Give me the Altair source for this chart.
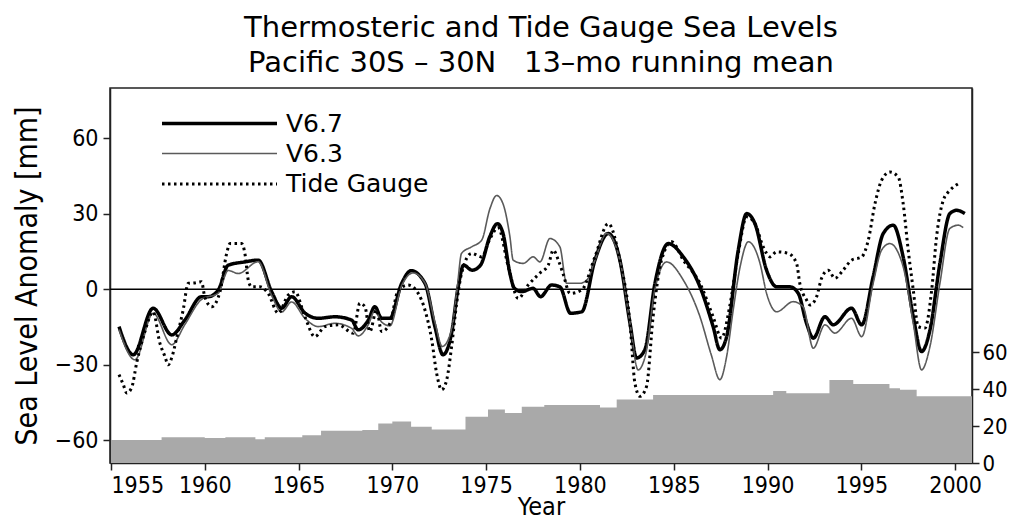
import altair as alt
import pandas as pd

# ---------------- data ----------------
series_order = ["V6.7", "V6.3", "Tide Gauge"]

v67_year = [1955.43, 1956.19, 1957.25, 1958.24, 1958.94, 1959.83, 1960.19, 1960.72, 1961.25, 1962.14,
            1962.85, 1963.57, 1964.1, 1964.63, 1965.34, 1966.05, 1966.94, 1967.83, 1968.18, 1968.72,
            1969.07, 1969.43, 1969.87, 1970.5, 1971.0, 1971.74, 1972.27, 1972.7, 1973.16, 1973.51,
            1973.8, 1974.25, 1974.7, 1975.2, 1975.6, 1975.9, 1976.27, 1976.5, 1976.9, 1977.5,
            1977.9, 1978.49, 1978.93, 1979.5, 1980.1, 1980.8, 1981.51, 1982.13, 1982.67, 1983.02,
            1983.46, 1984.0, 1984.71, 1985.51, 1986.4, 1987.1, 1987.46, 1987.82, 1988.44, 1988.89,
            1989.33, 1989.95, 1990.49, 1991.19, 1991.64, 1992.08, 1992.44, 1993.06, 1993.5, 1994.48,
            1995.02, 1995.63, 1996.17, 1996.7, 1997.23, 1997.77, 1998.21, 1998.66, 1999.19, 1999.72,
            2000.08, 2000.52]
v67_mm = [-14.8, -26.0, -7.5, -18.1, -12.2, -2.9, -2.9, -0.3, 9.6, 10.9,
          11.6, -1.0, -7.5, -2.9, -9.4, -11.5, -10.9, -12.2, -16.1, -12.2,
          -6.9, -11.5, -11.5, 2.4, 7.4, 2.4, -14.8, -26.0, -17.3, 1.0,
          9.6, 7.6, 9.6, 21.0, 26.1, 22.2, 6.3, 0.5, -0.9, 0.4,
          -2.9, 1.7, 1.0, -9.5, -8.9, 11.6, 22.2, 11.6, -13.5, -27.3,
          -24.0, 2.4, 18.2, 12.9, 1.0, -14.8, -24.0, -18.8, 15.6, 30.1,
          26.1, 7.6, 1.0, 1.0, -1.6, -13.5, -19.4, -10.9, -14.1, -7.5,
          -14.1, 5.0, 22.2, 25.5, 12.9, -10.9, -24.7, -16.1, 10.3, 30.1,
          31.4, 30.1]

v63_year = [1955.43, 1956.28, 1957.25, 1958.24, 1958.94, 1959.83, 1960.72, 1961.25, 1961.79, 1962.85,
            1963.57, 1964.1, 1964.63, 1965.34, 1966.05, 1966.94, 1967.83, 1968.18, 1968.72, 1969.07,
            1969.43, 1969.87, 1970.5, 1971.11, 1971.74, 1972.27, 1972.66, 1973.16, 1973.45, 1973.69,
            1974.23, 1974.76, 1975.2, 1975.56, 1975.9, 1976.27, 1976.44, 1976.98, 1977.51, 1977.87,
            1978.4, 1978.93, 1979.29, 1980.0, 1980.4, 1980.8, 1981.42, 1982.13, 1982.67, 1983.1,
            1983.5, 1984.0, 1984.62, 1985.51, 1986.4, 1987.0, 1987.46, 1987.82, 1988.17, 1988.54,
            1988.98, 1989.6, 1989.95, 1990.49, 1991.37, 1991.9, 1992.44, 1993.06, 1993.59, 1994.48,
            1995.02, 1995.63, 1996.08, 1996.52, 1997.23, 1997.77, 1998.21, 1998.66, 1999.19, 1999.72,
            2000.17, 2000.43]
v63_mm = [-16.0, -28.0, -9.5, -22.0, -14.0, -4.0, -1.5, 7.5, 6.3, 11.0,
          -2.5, -9.0, -5.0, -11.5, -14.8, -13.5, -15.5, -18.5, -14.0, -8.5,
          -13.0, -14.5, 1.5, 6.5, 2.5, -13.0, -22.7, -16.0, 0.0, 14.3,
          16.9, 19.5, 32.0, 37.3, 34.0, 20.8, 11.6, 10.3, 12.9, 10.9,
          20.2, 16.9, 2.4, 2.4, 4.0, 11.6, 22.2, 11.6, -13.5, -32.0,
          -26.0, 0.0, 10.9, 3.7, -10.9, -26.0, -35.9, -26.7, -8.2, 9.0,
          18.9, 10.3, -1.6, -8.9, -4.9, -7.0, -23.4, -14.1, -17.4, -11.5,
          -18.8, 2.4, 15.6, 18.2, 9.0, -13.5, -32.0, -22.7, 2.4, 24.2,
          25.5, 24.5]

tg_year = [1955.43, 1955.66, 1955.84, 1956.1, 1956.37, 1956.8, 1957.25, 1957.61, 1957.88, 1958.05,
           1958.25, 1958.5, 1958.85, 1959.12, 1959.4, 1959.83, 1960.0, 1960.37, 1960.81, 1961.17,
           1961.35, 1961.97, 1962.14, 1962.32, 1962.5, 1962.94, 1963.38, 1963.92, 1964.45, 1964.81,
           1965.34, 1965.87, 1966.41, 1967.12, 1967.92, 1968.27, 1968.54, 1968.8, 1969.16, 1969.43,
           1969.87, 1970.32, 1970.85, 1971.38, 1971.74, 1972.1, 1972.36, 1972.63, 1972.9, 1973.16,
           1973.43, 1973.69, 1974.23, 1974.76, 1975.2, 1975.64, 1976.18, 1976.71, 1977.24, 1977.87,
           1978.31, 1978.58, 1978.85, 1979.11, 1979.47, 1980.09, 1980.8, 1981.51, 1982.13, 1982.67,
           1982.93, 1983.2, 1983.55, 1983.9, 1984.35, 1984.89, 1985.51, 1986.4, 1987.1, 1987.55,
           1987.98, 1988.44, 1988.89, 1989.33, 1989.77, 1990.13, 1990.49, 1991.1, 1991.55, 1991.72,
           1992.08, 1992.26, 1992.62, 1992.88, 1993.24, 1993.59, 1994.03, 1994.48, 1995.02, 1995.37,
           1995.73, 1996.08, 1996.52, 1996.97, 1997.23, 1997.5, 1997.77, 1998.03, 1998.39, 1998.75,
           1999.01, 1999.37, 1999.72, 2000.17]
tg_mm = [-33.9, -37.9, -41.2, -39.2, -29.3, -17.0, -9.0, -21.4, -26.7, -30.0,
         -27.0, -19.4, -8.2, 2.4, 2.5, 3.0, -2.9, -6.9, -1.0, 14.3,
         18.2, 18.2, 14.3, 3.7, 1.0, 1.0, -1.6, -9.5, -2.3, -1.0,
         -10.9, -18.8, -14.8, -14.1, -17.4, -5.5, -6.9, -16.8, -8.2, -16.8,
         -13.5, -0.3, 1.7, -1.6, -8.2, -20.1, -33.3, -39.9, -35.9, -22.7,
         -5.5, 6.3, 14.3, 12.9, 20.0, 24.5, 9.0, -3.6, 1.7, 6.5,
         9.6, 15.6, 11.6, 6.0, -1.6, -0.3, 12.9, 26.1, 11.6, -13.5,
         -37.2, -42.5, -38.6, -10.9, 11.6, 18.9, 11.6, 2.4, -10.9, -19.4,
         -6.9, 14.3, 28.8, 26.1, 16.9, 12.9, 14.9, 14.3, 10.3, 2.4,
         -4.2, -6.2, -2.9, 4.4, 7.6, 4.4, 7.6, 11.6, 12.9, 19.5,
         34.1, 43.3, 46.6, 44.6, 34.1, 15.6, -0.3, -14.8, -15.4, -0.3,
         20.8, 35.4, 39.3, 42.0]

# number of tide gauges (right axis), step changes
count_year = [1955.0, 1957.7, 1960.0, 1961.1, 1962.7, 1963.2, 1965.2, 1966.2, 1968.4, 1969.25,
              1970.0, 1971.0, 1972.1, 1973.9, 1975.1, 1976.0, 1976.9, 1978.1, 1981.07, 1981.96,
              1983.9, 1990.3, 1991.0, 1993.3, 1994.57, 1996.5, 1997.06, 1997.95, 2000.9]
count_val = [12.4, 13.9, 13.5, 13.9, 12.8, 13.9, 15.0, 17.5, 17.8, 21.4,
             22.5, 19.6, 18.2, 25.0, 29.0, 27.0, 30.5, 31.4, 30.0, 34.4,
             36.8, 39.0, 37.7, 44.9, 42.7, 40.5, 39.6, 36.2, 36.2]

x_ticks = [1955, 1960, 1965, 1970, 1975, 1980, 1985, 1990, 1995, 2000]
left_ticks = [-60, -30, 0, 30, 60]
right_ticks = [0, 20, 40, 60]

# ---------------- tables ----------------
rows = []
for name, ys, vs in [("V6.7", v67_year, v67_mm), ("V6.3", v63_year, v63_mm), ("Tide Gauge", tg_year, tg_mm)]:
    for y, v in zip(ys, vs):
        rows.append({"year": y, "mm": v, "series": name})
lines_df = pd.DataFrame(rows)
count_df = pd.DataFrame({"year": count_year, "n": count_val})
zero_df = pd.DataFrame({"z": [0]})

FONT = "DejaVu Sans Condensed, DejaVu Sans"

x_scale = alt.Scale(domain=[1954.95, 2000.9], nice=False, zero=False)
y_scale = alt.Scale(domain=[-69, 80], nice=False, zero=False)

x_axis = alt.Axis(values=x_ticks, format="d", title="Year", labelPadding=4, titlePadding=-3,
                  titleFontSize=25)
left_axis = alt.Axis(orient="left", values=left_ticks, title="Sea Level Anomaly [mm]",
                     labelPadding=5, titlePadding=12, titleFontSize=30)

area = alt.Chart(count_df).mark_area(interpolate="step-after", color="#a9a9a9").encode(
    x=alt.X("year:Q", scale=x_scale, axis=x_axis),
    y=alt.Y("n:Q", scale=alt.Scale(domain=[0, 203], nice=False),
            axis=alt.Axis(orient="right", values=right_ticks, title=None, labelPadding=3,
                          labelFontSize=22)),
)

zero = alt.Chart(zero_df).mark_rule(color="black", strokeWidth=1.5).encode(
    y=alt.Y("z:Q", scale=y_scale, axis=left_axis),
)

lines = alt.Chart(lines_df).mark_line(interpolate="monotone").encode(
    x=alt.X("year:Q", scale=x_scale, axis=x_axis),
    y=alt.Y("mm:Q", scale=y_scale, axis=left_axis),
    color=alt.Color("series:N",
                    scale=alt.Scale(domain=series_order, range=["#000000", "#5a5a5a", "#000000"]),
                    legend=alt.Legend(title=None, orient="none", legendX=50, legendY=22,
                                      symbolType="M-1,0H9", symbolSize=529,
                                      labelFont="DejaVu Sans", labelFontSize=25, labelColor="black",
                                      labelOffset=99, rowPadding=4)),
    strokeWidth=alt.StrokeWidth("series:N",
                                scale=alt.Scale(type="ordinal", domain=series_order,
                                                range=[3.5, 1.6, 3.0])),
    strokeDash=alt.StrokeDash("series:N",
                              scale=alt.Scale(domain=series_order,
                                              range=[[1, 0], [1, 0], [2.5, 3.5]])),
)

chart = alt.layer(area, alt.layer(zero, lines)).resolve_scale(y="independent").properties(
    width=862,
    height=375,
    title=alt.Title(["Thermosteric and Tide Gauge Sea Levels",
                     "Pacific 30S \u2013 30N\u00a0\u00a0 13\u2013mo running mean"],
                    font="DejaVu Sans", fontSize=29, fontWeight="normal", color="black",
                    lineHeight=35, offset=10, anchor="middle"),
    autosize=alt.AutoSizeParams(type="none"),
    padding={"left": 102, "top": 80, "right": 37, "bottom": 57},
).configure_view(
    stroke="#222222", strokeWidth=1.5
).configure_axis(
    labelFont=FONT, labelFontSize=23, labelColor="black",
    titleFont=FONT, titleColor="black", titleFontWeight="normal",
    domainColor="#222222", domainWidth=1.5, tickColor="#222222", tickWidth=1.5, tickSize=7,
    grid=False,
)

chart.save("out.html", embed_options={"renderer": "svg", "actions": False})
